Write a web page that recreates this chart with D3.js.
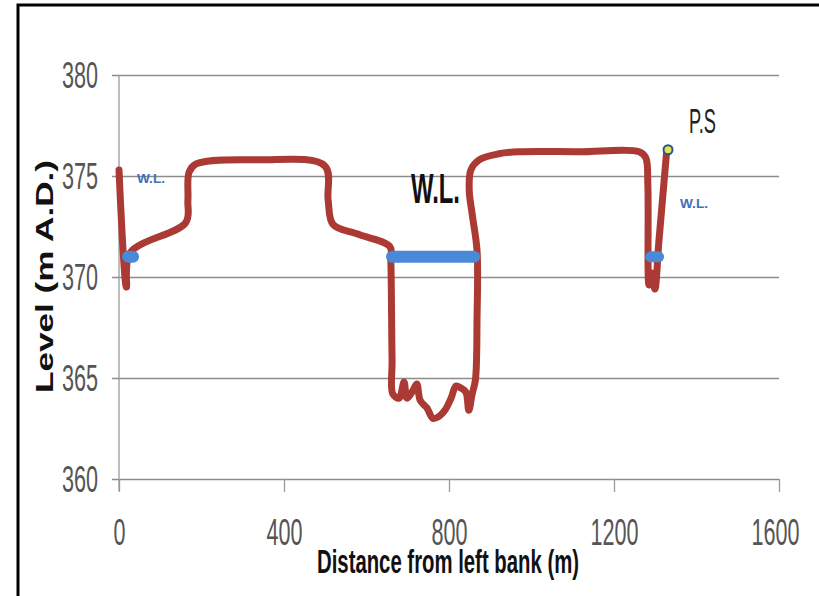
<!DOCTYPE html>
<html lang="en">

<head>
    <meta charset="UTF-8">
    <title>Cross section</title>
    <script src="https://d3js.org/d3.v7.min.js"></script>
    <style>
        body { margin: 0; background: #fff; }
    </style>
</head>

<body>
    <script>
        // bed profile, distance (m) and level (m A.D.)
        var dist = [0, 18, 27, 162, 167, 170, 187, 339, 499, 507, 519, 582, 657, 659, 662,
            664, 679, 691, 698, 713, 722, 730, 747, 761, 776, 790, 805, 817, 829, 841, 848, 856, 864,
            868, 868, 857, 849, 853, 873, 921, 970, 1115, 1261, 1277, 1282, 1285, 1292, 1299, 1309, 1328];
        var level = [375.3, 369.5, 371.2, 372.7, 373.8, 375.2, 375.6, 375.8, 375.5, 373.8, 372.6, 372.1, 371.5, 370.8, 365.9,
            364.2, 364.0, 364.8, 364.0, 364.4, 364.7, 363.9, 363.5, 363.0, 363.1, 363.4, 364.0, 364.6, 364.5, 364.3, 363.4, 364.2, 364.9,
            368.0, 371.3, 373.0, 374.3, 375.3, 375.8, 376.1, 376.2, 376.2, 376.2, 375.9, 374.6, 369.6, 370.2, 369.4, 371.8, 376.3];

        // water level marks
        var wlLevel = 371.0;
        var wlFrom = [22, 662, 1289];
        var wlTo = [34, 861, 1308];
        var wlWidth = [12, 12, 11];

        var psDist = 1331, psLevel = 376.3;

        var xTicks = [0, 400, 800, 1200, 1600];
        var yTicks = [360, 365, 370, 375, 380];

        var width = 819;
        var height = 596;
        var svg = d3.select("body").append("svg")
            .attr("width", width)
            .attr("height", height)
            .style("font-family", "'Liberation Sans', Arial, sans-serif");

        var xScale = d3.scaleLinear().domain([0, 1600]).range([119, 779]);
        var yScale = d3.scaleLinear().domain([360, 380]).range([479, 75]);

        // frame
        svg.append("path")
            .attr("d", "M18,596 L18,5 L819,5")
            .attr("fill", "none")
            .attr("stroke", "#000")
            .attr("stroke-width", 3);

        // y axis with gridlines
        var gy = svg.append("g")
            .attr("transform", "translate(119,0)")
            .call(d3.axisLeft(yScale).tickValues(yTicks).tickSize(-660).tickSizeOuter(0).tickPadding(21));
        gy.select(".domain").remove();
        gy.selectAll("line").attr("stroke", "#8c8c8c").attr("stroke-width", 1.3).attr("x1", -7);
        gy.selectAll("text")
            .attr("font-size", 36)
            .attr("fill", "#555")
            .attr("dy", "0.36em")
            .attr("textLength", 36)
            .attr("lengthAdjust", "spacingAndGlyphs");

        // x axis
        var gx = svg.append("g")
            .attr("transform", "translate(0,479)")
            .call(d3.axisBottom(xScale).tickValues(xTicks).tickFormat(d3.format("d")).tickSize(13).tickSizeOuter(0));
        gx.select(".domain").remove();
        gx.selectAll("line").attr("stroke", "#9a9a9a").attr("stroke-width", 1.3);
        gx.selectAll("text")
            .attr("font-size", 36)
            .attr("fill", "#555")
            .attr("y", 66)
            .attr("dy", "0")
            .attr("textLength", function (d) { return String(d).length * 12; })
            .attr("lengthAdjust", "spacingAndGlyphs");
        gx.selectAll(".tick").filter(function (d) { return d === 1600; })
            .select("text").attr("x", -4);

        // y axis line
        svg.append("line")
            .attr("x1", xScale(0)).attr("x2", xScale(0))
            .attr("y1", yScale(380)).attr("y2", yScale(360) + 12)
            .attr("stroke", "#9a9a9a")
            .attr("stroke-width", 1.3);

        // bed profile
        var pts = dist.map(function (d, i) { return [d, level[i]]; });
        var line = d3.line()
            .x(function (d) { return xScale(d[0]); })
            .y(function (d) { return yScale(d[1]); })
            .curve(d3.curveCatmullRom.alpha(0.5));

        svg.append("path")
            .datum(pts)
            .attr("d", line)
            .attr("fill", "none")
            .attr("stroke", "#ab3a34")
            .attr("stroke-width", 7)
            .attr("stroke-linejoin", "round")
            .attr("stroke-linecap", "round");

        // water level bars
        svg.selectAll(".wl")
            .data(wlFrom)
            .enter()
            .append("line")
            .attr("class", "wl")
            .attr("x1", function (d) { return xScale(d); })
            .attr("x2", function (d, i) { return xScale(wlTo[i]); })
            .attr("y1", yScale(wlLevel))
            .attr("y2", yScale(wlLevel))
            .attr("stroke", "#4a88d8")
            .attr("stroke-width", function (d, i) { return wlWidth[i]; })
            .attr("stroke-linecap", "round");

        // P.S point
        svg.append("circle")
            .attr("cx", xScale(psDist))
            .attr("cy", yScale(psLevel))
            .attr("r", 4.5)
            .attr("fill", "#dde64a")
            .attr("stroke", "#34518f")
            .attr("stroke-width", 2);

        // labels
        function label(txt, x, y, size, weight, color, len) {
            svg.append("text")
                .attr("x", x).attr("y", y)
                .attr("font-size", size)
                .attr("font-weight", weight)
                .attr("fill", color)
                .attr("textLength", len)
                .attr("lengthAdjust", "spacingAndGlyphs")
                .text(txt);
        }
        label("W.L.", 137, 183, 13, "bold", "#3f6fb6", 28);
        label("W.L.", 680, 208, 13, "bold", "#3f6fb6", 28);
        label("W.L.", 411, 203, 42, "bold", "#111", 49);
        label("P.S", 689, 133, 35, "normal", "#222", 27);

        // axis titles
        svg.append("text")
            .attr("x", 317).attr("y", 573)
            .attr("font-size", 34)
            .attr("font-weight", "bold")
            .attr("fill", "#111")
            .attr("textLength", 262)
            .attr("lengthAdjust", "spacingAndGlyphs")
            .text("Distance from left bank (m)");

        svg.append("text")
            .attr("transform", "translate(53,393) rotate(-90)")
            .attr("font-size", 24)
            .attr("font-weight", "bold")
            .attr("fill", "#111")
            .attr("textLength", 233)
            .attr("lengthAdjust", "spacingAndGlyphs")
            .text("Level (m A.D.)");
    </script>
</body>

</html>
